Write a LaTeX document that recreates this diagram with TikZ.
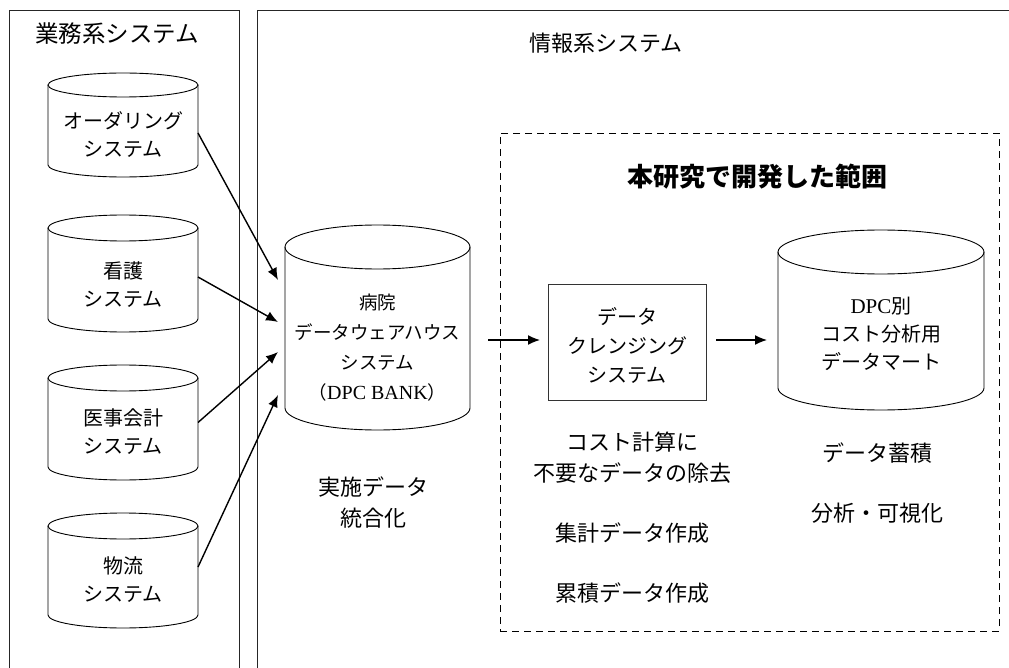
\documentclass[tikz,border=0pt]{standalone}
\usepackage{fontspec}
\setmainfont{Liberation Serif}
\newfontfamily\jp{Noto Sans CJK JP}
\usetikzlibrary{arrows.meta,calc}
\tikzset{
  frame/.style={line width=0.8pt, draw=black!85},
  cylline/.style={line width=0.9pt},
  body/.style={inner sep=0pt, outer sep=0pt},
  lbl/.style={font=\jp\fontsize{20}{28}\selectfont, align=center, inner sep=0pt},
  head/.style={font=\jp\fontsize{22}{28}\selectfont, inner sep=0pt},
  note/.style={font=\jp\fontsize{22}{31}\selectfont, align=center, inner sep=0pt},
  conn/.style={line width=1.4pt, -{Latex[length=12pt,width=10pt]}},
  area/.style={draw, line width=0.8pt, dash pattern=on 7pt off 5pt, inner sep=0pt}
}
% name, cx, top, bottom, half width, ry
\newcommand{\dbcyl}[6]{%
  \draw[cylline] (#2-#5,#3+#6) -- (#2-#5,#4-#6)
     arc[start angle=180,end angle=360,x radius=#5pt,y radius=#6pt] -- (#2+#5,#3+#6);
  \draw[cylline] (#2,#3+#6) ellipse[x radius=#5pt,y radius=#6pt];
  \node[body, minimum width={2*#5pt}, minimum height={(#4-#3)*1pt}] (#1) at (#2,{(#3+#4)/2}) {};
}
\begin{document}
\begin{tikzpicture}[x=1pt,y=-1pt]
\useasboundingbox (0,0) rectangle (1009,668);
\fill[white] (0,0) rectangle (1009,668);
% frames
\draw[frame] (9,668) -- (9,10) -- (239,10) -- (239,668);
\draw[frame] (257,668) -- (257,10) -- (1009,10);
\node[head, font=\jp\fontsize{23.5}{28}\selectfont] (gyomu) at (117,34) {業務系システム};
\node[head] (joho) at (606,43) {情報系システム};
% operational systems
\dbcyl{ord}{123}{73}{177}{75}{12}
\node[lbl] (ordtxt) at (123,135) {オーダリング\\システム};
\dbcyl{kango}{123}{215}{332}{75}{13}
\node[lbl] (kangotxt) at (123,285) {看護\\システム};
\dbcyl{iji}{123}{365}{480}{75}{13}
\node[lbl] (ijitxt) at (123,432) {医事会計\\システム};
\dbcyl{butsu}{123}{513}{628}{75}{13}
\node[lbl] (butsutxt) at (123,580) {物流\\システム};
% data warehouse
\dbcyl{dwh}{377.5}{225}{430}{92.5}{22}
\node[lbl, font=\jp\fontsize{18.5}{30}\selectfont] (dwhtxt) at (377.5,348)
  {病院\\データウェアハウス\\システム\\（{\rmfamily\fontsize{20}{30}\selectfont DPC BANK}）};
\node[note] (integ) at (373,503) {実施データ\\統合化};
% developed area
\node[area, minimum width=499pt, minimum height=498pt] (scope) at (749.5,382) {};
\node[font=\jp\bfseries\fontsize{26}{30}\selectfont, inner sep=0pt] (title) at (757,177) {本研究で開発した範囲};
\node[draw, line width=0.8pt, draw=black!80, minimum width=158pt, minimum height=116pt,
      outer sep=0pt, inner sep=0pt] (cl) at (627,342) {};
\node[lbl, font=\jp\fontsize{20}{29}\selectfont] (cltxt) at (627,345) {データ\\クレンジング\\システム};
\dbcyl{dm}{881}{230}{410}{103}{22}
\node[lbl] (dmtxt) at (881,334) {{\rmfamily\fontsize{21}{28}\selectfont DPC}別\\コスト分析用\\データマート};
\node[note] (n1) at (632,457.5) {コスト計算に\\不要なデータの除去};
\node[note] (n2) at (632,533) {集計データ作成};
\node[note] (n3) at (632,593) {累積データ作成};
\node[note] (n4) at (877,453) {データ蓄積};
\node[note] (n5) at (877,513) {分析・可視化};
% connectors
\draw[conn] ($(ord.east)+(0,8)$) -- ($(dwh.west)+(-7,-47.5)$);
\draw[conn] ($(kango.east)+(0,3.5)$) -- ($(dwh.west)+(-7,-5.5)$);
\draw[conn] (iji.east) -- ($(dwh.west)+(-7,24.5)$);
\draw[conn] ($(butsu.east)+(0,-3.5)$) -- ($(dwh.west)+(-7,67.5)$);
\draw[conn] ($(dwh.east)+(18,12.5)$) -- ($(cl.west)+(-8,-2)$);
\draw[conn] ($(cl.east)+(10,-2)$) -- ($(dm.west)+(-11,20)$);
\end{tikzpicture}
\end{document}
